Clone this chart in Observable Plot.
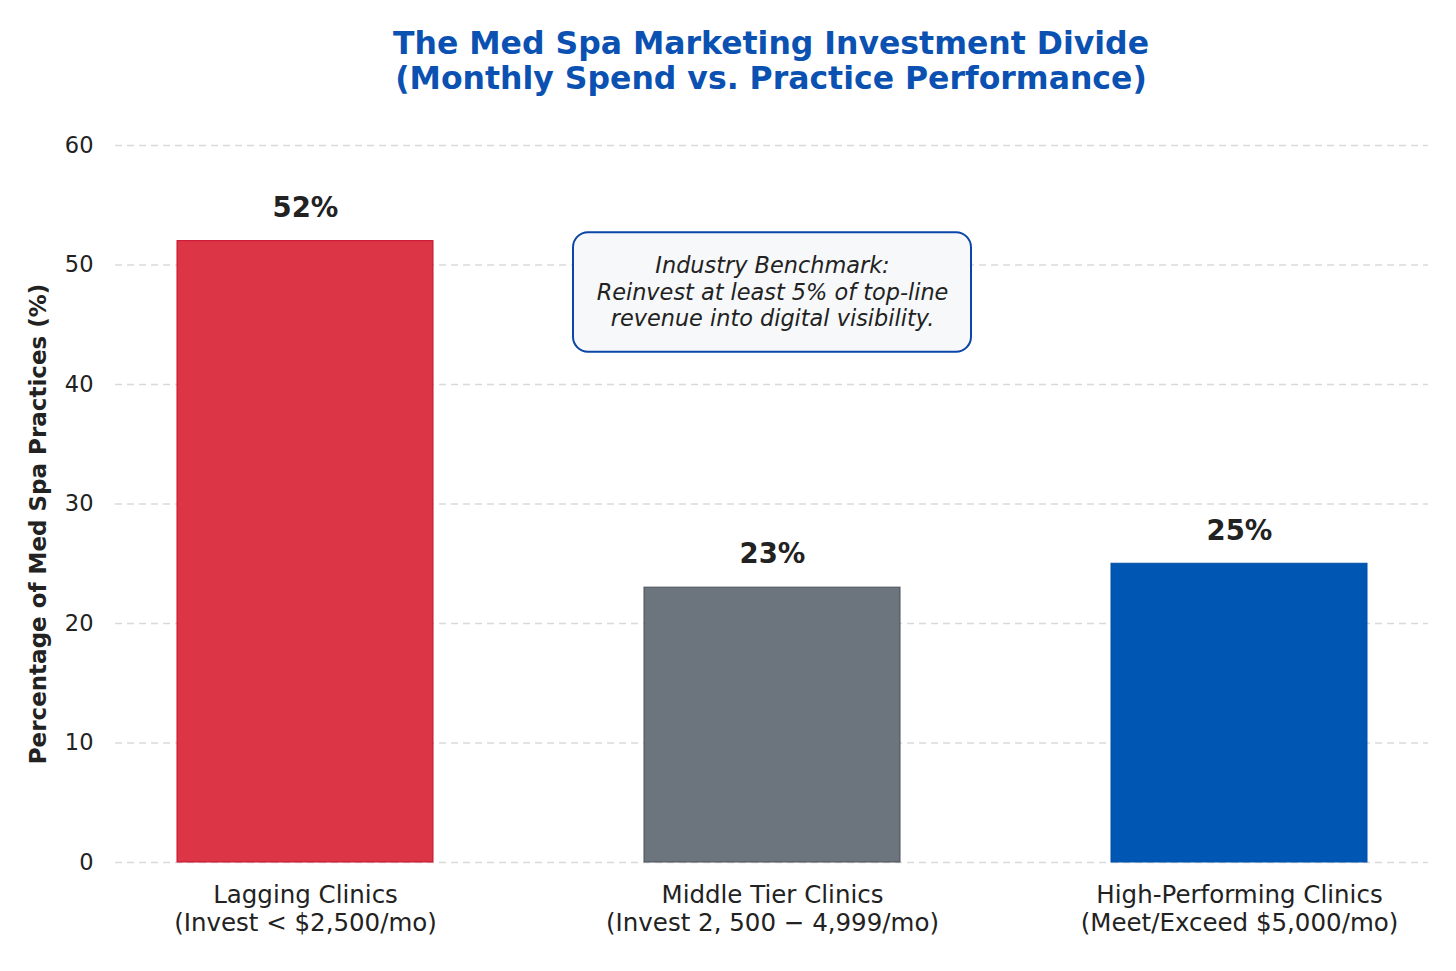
<!DOCTYPE html>
<html>
<head>
<meta charset="utf-8">
<script src="https://cdn.jsdelivr.net/npm/d3@7"></script>
<script src="https://cdn.jsdelivr.net/npm/@observablehq/plot@0.6"></script>
<style>
  html, body { margin: 0; padding: 0; background: #fff; }
  #wrap { width: 1456px; font-family: "DejaVu Sans", sans-serif; }
  #title {
    height: 112px; box-sizing: border-box; padding-top: 26px; padding-left: 86px;
    text-align: center; color: #0a51b2; font-weight: bold;
    font-size: 31.5px; line-height: 35px;
  }
  svg { display: block; }
</style>
</head>
<body>
<div id="wrap">
  <div id="title">The Med Spa Marketing Investment Divide<br>(Monthly Spend vs. Practice Performance)</div>
  <div id="chart"></div>
</div>
<script>
// Share of med spa practices by monthly marketing spend tier
const tiers = [
  "Lagging Clinics\n(Invest < $2,500/mo)",
  "Middle Tier Clinics\n(Invest 2, 500 \u2212 4,999/mo)",
  "High-Performing Clinics\n(Meet/Exceed $5,000/mo)"
];
const shares = [52, 23, 25];
const yTicks = [0, 10, 20, 30, 40, 50, 60];

const fillColors = ["#dc3545", "#6c757d", "#0056b3"];
const edgeColors = ["#c8102e", "#4a5058", "#0050a8"];

const benchmarkNote = "Industry Benchmark:\nReinvest at least 5% of top-line\nrevenue into digital visibility.";

const rows = tiers.map((t, i) => ({tier: t, share: shares[i], fill: fillColors[i], edge: edgeColors[i]}));

const chart = Plot.plot({
  width: 1456,
  height: 859,
  marginTop: 33,
  marginBottom: 109,
  marginLeft: 115,
  marginRight: 28,
  style: {fontFamily: "DejaVu Sans, sans-serif", fontSize: "22px", color: "#222", background: "#fff"},
  x: {domain: tiers, paddingInner: 0.452, paddingOuter: 0.13, label: null},
  y: {domain: [0, 60], label: null},
  marks: [
    Plot.gridY(yTicks, {stroke: "#cfcfcf", strokeOpacity: 0.8, strokeDasharray: "7,5", strokeWidth: 1.3}),
    Plot.barY(rows, {x: "tier", y: "share", fill: "fill", stroke: "edge", strokeWidth: 1}),
    Plot.text(rows, {
      x: "tier", y: "share", text: d => `${d.share}%`,
      dy: -33, fontSize: 27.5, fontWeight: "bold", fill: "#222"
    }),
    // benchmark callout box around the middle tier
    Plot.barY([tiers[1]], {
      x: d => d, y1: 42.7, y2: 52.7, insetLeft: -71, insetRight: -71,
      rx: 15, fill: "#f6f8fa", stroke: "#0b45a8", strokeWidth: 2
    }),
    Plot.text([benchmarkNote], {
      x: () => tiers[1], y: () => 47.8, text: d => d,
      fontSize: 22.4, fontStyle: "italic", lineHeight: 1.17, fill: "#222"
    }),
    Plot.axisY(yTicks, {tickSize: 0, tickPadding: 22, fontSize: 22.5, fill: "#222", label: null}),
    Plot.axisX({tickSize: 0, tickPadding: 21, fontSize: 24.5, lineHeight: 1.13, fill: "#222", label: null}),
    Plot.text(["Percentage of Med Spa Practices (%)"], {
      frameAnchor: "left", textAnchor: "middle", dx: -77, dy: 20, rotate: -90, text: d => d,
      fontSize: 23, fontWeight: "bold", fill: "#222"
    })
  ]
});
document.getElementById("chart").appendChild(chart);
</script>
</body>
</html>
